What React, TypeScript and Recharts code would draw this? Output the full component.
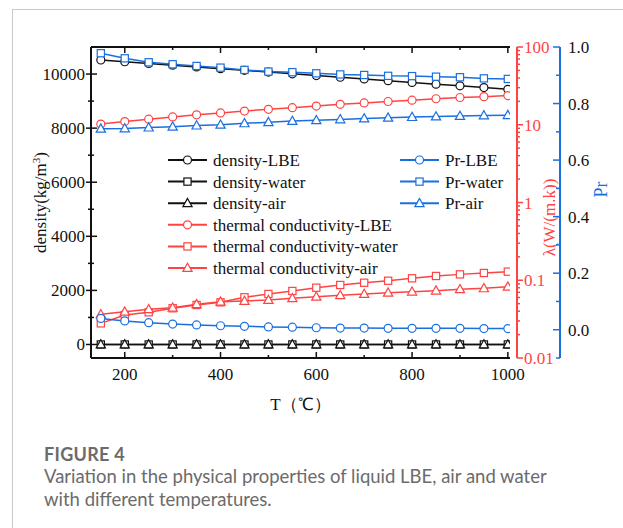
import React from 'react';
import { LineChart, Line, XAxis, YAxis, Legend } from 'recharts';

// ---------- data ----------
const temperatures = [150, 200, 250, 300, 350, 400, 450, 500, 550, 600, 650, 700, 750, 800, 850, 900, 950, 1000];

const densityLBE = [10519, 10455, 10392, 10328, 10264, 10200, 10137, 10073, 10009, 9945, 9882, 9818, 9754, 9690, 9627, 9563, 9499, 9436];
const densityWater = [0.52, 0.46, 0.42, 0.38, 0.35, 0.33, 0.3, 0.28, 0.27, 0.25, 0.24, 0.22, 0.21, 0.2, 0.19, 0.19, 0.18, 0.17];
const densityAir = [0.83, 0.75, 0.67, 0.62, 0.57, 0.52, 0.49, 0.46, 0.43, 0.4, 0.38, 0.36, 0.34, 0.33, 0.31, 0.3, 0.29, 0.28];

const conductivityLBE = [10.2, 11.0, 11.8, 12.6, 13.4, 14.2, 15.0, 15.8, 16.6, 17.4, 18.3, 19.1, 19.9, 20.7, 21.6, 22.4, 23.0, 23.7];
const conductivityWater = [0.0279, 0.0357, 0.0387, 0.0436, 0.0481, 0.052, 0.0604, 0.0666, 0.0728, 0.0802, 0.0869, 0.0929, 0.0986, 0.106, 0.1135, 0.119, 0.124, 0.129];
const conductivityAir = [0.0365, 0.0394, 0.0423, 0.0443, 0.0491, 0.053, 0.0541, 0.0557, 0.0586, 0.0614, 0.064, 0.0666, 0.0692, 0.0713, 0.0735, 0.0766, 0.0787, 0.0826];

const prLBE = [0.04, 0.031, 0.025, 0.02, 0.017, 0.014, 0.012, 0.01, 0.009, 0.007, 0.006, 0.006, 0.005, 0.005, 0.005, 0.005, 0.004, 0.004];
const prWater = [0.978, 0.96, 0.946, 0.939, 0.933, 0.927, 0.919, 0.913, 0.911, 0.907, 0.903, 0.901, 0.898, 0.897, 0.895, 0.893, 0.889, 0.887];
const prAir = [0.711, 0.712, 0.715, 0.718, 0.722, 0.725, 0.73, 0.734, 0.738, 0.741, 0.744, 0.747, 0.75, 0.752, 0.754, 0.756, 0.758, 0.759];

// ---------- ticks ----------
const xTicks = [200, 300, 400, 500, 600, 700, 800, 900, 1000];
const xTickLabels = ['200', '400', '600', '800', '1000'];
const densityTicks = [0, 1000, 2000, 3000, 4000, 5000, 6000, 7000, 8000, 9000, 10000];
const densityTickLabels = ['0', '2000', '4000', '6000', '8000', '10000'];
const conductivityMajor = [0.01, 0.1, 1, 10, 100];
const conductivityTickLabels = ['0.01', '0.1', '1', '10', '100'];
const prTicks = [-0.1, 0, 0.1, 0.2, 0.3, 0.4, 0.5, 0.6, 0.7, 0.8, 0.9, 1.0];
const prTickLabels = ['0.0', '0.2', '0.4', '0.6', '0.8', '1.0'];

const conductivityTicks: number[] = [];
conductivityMajor.forEach((d, i) => {
  if (i === conductivityMajor.length - 1) { conductivityTicks.push(d); return; }
  for (let m = 1; m <= 9; m++) conductivityTicks.push(parseFloat((d * m).toPrecision(3)));
});

const X_DOMAIN: [number, number] = [129.5, 1004.5];
const DENSITY_DOMAIN: [number, number] = [-500, 11000];
const K_DOMAIN: [number, number] = [0.01, 100];
const PR_DOMAIN: [number, number] = [-0.1, 1.0];

const BLACK = '#111111';
const RED = '#ff4343';
const BLUE = '#1a6fe0';
const FONT = '"Liberation Serif", "Times New Roman", serif';
const FS = 17;
const TXT = { fontFamily: FONT };

const rows = temperatures.map((t, i) => ({
  T: t,
  dLBE: densityLBE[i], dWater: densityWater[i], dAir: densityAir[i],
  kLBE: conductivityLBE[i], kWater: conductivityWater[i], kAir: conductivityAir[i],
  pLBE: prLBE[i], pWater: prWater[i], pAir: prAir[i],
}));

type Shape = 'circle' | 'square' | 'triangle';
const series: { key: string; name: string; axis: string; color: string; shape: Shape }[] = [
  { key: 'dLBE', name: 'density-LBE', axis: 'd', color: BLACK, shape: 'circle' },
  { key: 'dWater', name: 'density-water', axis: 'd', color: BLACK, shape: 'square' },
  { key: 'dAir', name: 'density-air', axis: 'd', color: BLACK, shape: 'triangle' },
  { key: 'kLBE', name: 'thermal conductivity-LBE', axis: 'k', color: RED, shape: 'circle' },
  { key: 'kWater', name: 'thermal conductivity-water', axis: 'k', color: RED, shape: 'square' },
  { key: 'kAir', name: 'thermal conductivity-air', axis: 'k', color: RED, shape: 'triangle' },
  { key: 'pLBE', name: 'Pr-LBE', axis: 'p', color: BLUE, shape: 'circle' },
  { key: 'pWater', name: 'Pr-water', axis: 'p', color: BLUE, shape: 'square' },
  { key: 'pAir', name: 'Pr-air', axis: 'p', color: BLUE, shape: 'triangle' },
];

const Marker = ({ cx, cy, shape, color }: { cx: number; cy: number; shape: Shape; color: string }) => {
  if (cx == null || cy == null || isNaN(cx) || isNaN(cy)) return null;
  const common = { fill: '#fff', stroke: color, strokeWidth: 1.2 };
  if (shape === 'circle') return <circle cx={cx} cy={cy} r={4} {...common} />;
  if (shape === 'square') return <rect x={cx - 3.6} y={cy - 3.6} width={7.2} height={7.2} {...common} />;
  return <polygon points={`${cx},${cy - 4.8} ${cx - 4.6},${cy + 3.4} ${cx + 4.6},${cy + 3.4}`} {...common} />;
};

const isMajorLog = (v: number) => Math.abs(Math.log10(v) - Math.round(Math.log10(v))) < 1e-6;

const DensityTick = (p: any) => {
  const { x, y, payload } = p;
  const v = payload.value;
  const idx = densityTickLabels.indexOf(String(v));
  const major = idx >= 0;
  return (
    <g>
      <line x1={x - (major ? 5 : 3)} x2={x + (major ? 6 : 3)} y1={y} y2={y} stroke={BLACK} strokeWidth={1.5} />
      {major && (
        <text x={x - 6} y={y} dy={6} textAnchor="end" fontSize={FS} fontFamily={FONT} style={TXT} fill={BLACK}>{densityTickLabels[idx]}</text>
      )}
    </g>
  );
};

const KTick = (p: any) => {
  const { x, y, payload } = p;
  const v = payload.value;
  const major = isMajorLog(v);
  const idx = conductivityMajor.findIndex((m) => Math.abs(m - v) / m < 1e-6);
  return (
    <g>
      <line x1={x + 7} x2={x + (major ? 13 : 10)} y1={y} y2={y} stroke={RED} strokeWidth={1.5} />
      {major && idx >= 0 && (
        <text x={x + 14} y={y} dy={6} textAnchor="start" fontSize={FS} fontFamily={FONT} style={TXT} fill={RED}>{conductivityTickLabels[idx]}</text>
      )}
    </g>
  );
};

const PrTick = (p: any) => {
  const { x, y, payload } = p;
  const v = payload.value;
  const label = v >= -1e-9 ? v.toFixed(1) : '';
  const major = prTickLabels.indexOf(label) >= 0;
  return (
    <g>
      <line x1={x - (major ? 7 : 4)} x2={x} y1={y} y2={y} stroke={BLUE} strokeWidth={1.5} />
      {major && (
        <text x={x + 8} y={y} dy={6} textAnchor="start" fontSize={FS} fontFamily={FONT} style={TXT} fill={BLACK}>{label}</text>
      )}
    </g>
  );
};

const XTick = (p: any) => {
  const { x, y, payload } = p;
  const v = payload.value;
  const idx = xTickLabels.indexOf(String(v));
  const major = idx >= 0;
  return (
    <g>
      <line x1={x} x2={x} y1={y - (major ? 6 : 3)} y2={y} stroke={BLACK} strokeWidth={1.5} />
      {major && (
        <text x={x} y={y + 22} textAnchor="middle" fontSize={FS} fontFamily={FONT} style={TXT} fill={BLACK}>{xTickLabels[idx]}</text>
      )}
    </g>
  );
};

const TopTick = (p: any) => {
  const { x, y, payload } = p;
  const major = xTickLabels.indexOf(String(payload.value)) >= 0;
  return <line x1={x} x2={x} y1={y} y2={y + (major ? 6 : 3)} stroke={BLACK} strokeWidth={1.5} />;
};

const DensityLabel = (p: any) => {
  const vb = p.viewBox || { x: 0, y: 47, width: 91, height: 311 };
  const cx = vb.x + 40;
  const cy = vb.y + vb.height / 2;
  return (
    <text x={cx} y={cy} transform={`rotate(-90 ${cx} ${cy})`} textAnchor="middle" dy={6} fontSize={FS} fontFamily={FONT} style={TXT} fill={BLACK}>
      density(kg/m<tspan dy={-6} fontSize={11}>3</tspan><tspan dy={6}>)</tspan>
    </text>
  );
};

const KLabel = (p: any) => {
  const vb = p.viewBox || { x: 510, y: 47, width: 50, height: 311 };
  const cx = vb.x + 39;
  const cy = vb.y + vb.height / 2 + 15;
  return (
    <g>
      <line x1={vb.x + 7} x2={vb.x + 7} y1={vb.y} y2={vb.y + vb.height} stroke={RED} strokeWidth={2} />
      <text x={cx} y={cy} transform={`rotate(-90 ${cx} ${cy})`} textAnchor="middle" dy={6} fontSize={FS} fontFamily={FONT} style={TXT} fill={RED}>
        λ(W/(m.k))
      </text>
    </g>
  );
};

const PrLabel = (p: any) => {
  const vb = p.viewBox || { x: 560, y: 47, width: 63, height: 311 };
  const cx = vb.x + 41;
  const cy = vb.y + vb.height / 2 - 13;
  return (
    <text x={cx} y={cy} transform={`rotate(-90 ${cx} ${cy})`} textAnchor="middle" dy={6} fontSize={18} fontFamily={FONT} style={TXT} fill={BLUE}>
      Pr
    </text>
  );
};

const XLabel = (p: any) => {
  const vb = p.viewBox || { x: 91, y: 358, width: 419, height: 50 };
  return (
    <text x={vb.x + vb.width / 2} y={vb.y + 52} textAnchor="middle" fontSize={FS} fontFamily={FONT} style={TXT} fill={BLACK}>
      T（℃）
    </text>
  );
};

const LegendBox = () => {
  const left = series.filter((s) => s.axis !== 'p');
  const right = series.filter((s) => s.axis === 'p');
  const entry = (s: typeof series[number], i: number, x0: number) => {
    const y = 160 + i * 21.6;
    return (
      <g key={s.key}>
        <line x1={x0} x2={x0 + 39} y1={y} y2={y} stroke={s.color} strokeWidth={2} />
        <Marker cx={x0 + 19.5} cy={y} shape={s.shape} color={s.color} />
        <text x={x0 + 45} y={y} dy={6} fontSize={FS} fontFamily={FONT} style={TXT} fill={BLACK}>{s.name}</text>
      </g>
    );
  };
  return (
    <svg width={623} height={420} style={{ position: 'absolute', left: 0, top: 0, overflow: 'visible' }}>
      {left.map((s, i) => entry(s, i, 168))}
      {right.map((s, i) => entry(s, i, 400))}
    </svg>
  );
};

export default function App() {
  return (
    <div style={{ position: 'absolute', left: 0, top: 0, width: 623, height: 528, overflow: 'hidden', background: '#fff' }}>
      <div style={{ position: 'absolute', left: 12, top: 9, width: 700, height: 600, borderLeft: '1.5px solid #c9c9c9', borderTop: '1.5px solid #c9c9c9' }} />
      <div style={{ position: 'absolute', left: 0, top: 0, fontFamily: FONT }}>
        <LineChart width={623} height={420} data={rows} margin={{ top: 46, right: 0, left: 0, bottom: 12 }} style={{ fontFamily: FONT }}>
          <XAxis dataKey="T" type="number" domain={X_DOMAIN} ticks={xTicks} interval={0} allowDataOverflow
            height={50} tickSize={0} tickMargin={0} tickLine={false}
            axisLine={{ stroke: BLACK, strokeWidth: 2 }} tick={XTick} label={XLabel} />
          <XAxis xAxisId="top" orientation="top" dataKey="T" type="number" domain={X_DOMAIN} ticks={xTicks} interval={0} allowDataOverflow
            height={1} tickSize={0} tickMargin={0} tickLine={false}
            axisLine={{ stroke: BLACK, strokeWidth: 2 }} tick={TopTick} />
          <YAxis yAxisId="d" type="number" domain={DENSITY_DOMAIN} ticks={densityTicks} interval={0} allowDataOverflow
            width={91} tickSize={0} tickMargin={0} tickLine={false}
            axisLine={{ stroke: BLACK, strokeWidth: 2 }} tick={DensityTick} label={DensityLabel} />
          <YAxis yAxisId="k" orientation="right" type="number" scale="log" domain={K_DOMAIN} ticks={conductivityTicks} interval={0} allowDataOverflow
            width={50} tickSize={0} tickMargin={0} tickLine={false} axisLine={false} tick={KTick} label={KLabel} />
          <YAxis yAxisId="p" orientation="right" type="number" domain={PR_DOMAIN} ticks={prTicks} interval={0} allowDataOverflow
            width={63} tickSize={0} tickMargin={0} tickLine={false}
            axisLine={{ stroke: BLUE, strokeWidth: 2 }} tick={PrTick} label={PrLabel} />
          <Legend verticalAlign="middle" align="center" layout="horizontal" content={LegendBox}
            wrapperStyle={{ position: 'absolute', left: 0, top: 0, width: 623, height: 420, pointerEvents: 'none' }} />
          {series.map((s) => (
            <Line key={s.key} yAxisId={s.axis} dataKey={s.key} name={s.name} stroke={s.color} strokeWidth={1.5}
              isAnimationActive={false} legendType="none"
              dot={(dp: any) => <Marker key={`${s.key}-${dp.index}`} cx={dp.cx} cy={dp.cy} shape={s.shape} color={s.color} />}
              activeDot={false} />
          ))}
        </LineChart>
      </div>
      <div style={{ position: 'absolute', left: 44, top: 443, fontFamily: 'Lato, "Open Sans", sans-serif', color: '#6b6b6b' }}>
        <div style={{ fontSize: 18, fontWeight: 700, lineHeight: '22px', letterSpacing: 0.3 }}>FIGURE 4</div>
        <div style={{ fontSize: 18.5, lineHeight: '23px', marginTop: 0 }}>
          Variation in the physical properties of liquid LBE, air and water<br />with different temperatures.
        </div>
      </div>
    </div>
  );
}
